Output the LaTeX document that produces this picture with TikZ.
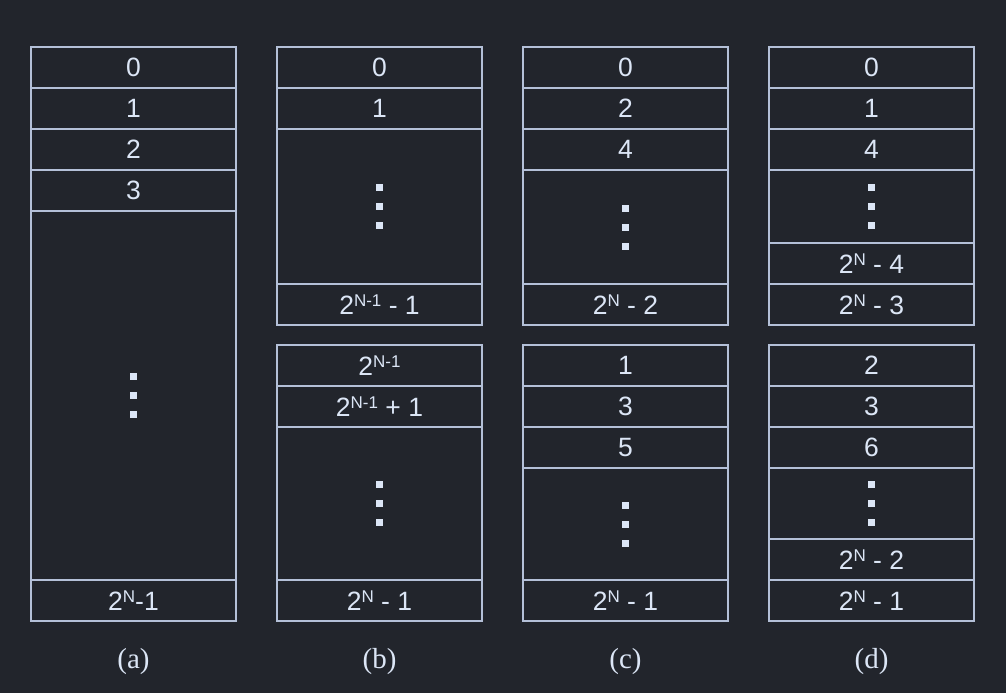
\documentclass[tikz,border=0pt]{standalone}
\usepackage{fontspec}
\setmainfont{Liberation Sans}
\newfontfamily\capfont{Liberation Serif}
\usepackage{tikz}
\usetikzlibrary{positioning}

\definecolor{bg}{HTML}{22252C}
\definecolor{edge}{HTML}{B4C0D8}
\definecolor{ink}{HTML}{DCE6F6}

\newcommand{\pw}[1]{2\raisebox{7.7pt}{\fontsize{17}{20}\selectfont #1}}
\newcommand{\dotsq}{\rule{7pt}{7pt}}
\newcommand{\sqdots}{\vbox{\offinterlineskip\hbox{\dotsq}\kern12pt\hbox{\dotsq}\kern12pt\hbox{\dotsq}}}

\begin{document}
\begin{tikzpicture}[x=1pt,y=-1pt,
slot/.style={
rectangle,
minimum width=205pt,
minimum height=41pt,
inner sep=0pt,
outer sep=0pt,
line width=1.5pt,
draw=edge,
text=ink,
font=\fontsize{26.5}{30}\selectfont
},
tall/.style={slot, minimum height=#1},
caption/.style={text=ink, font=\capfont\fontsize{29}{32}\selectfont}
]

\fill[bg] (0,0) rectangle (1006,693);
\useasboundingbox (0,0) rectangle (1006,693);

\node[slot] (a0) at (133.5,67.5) {0};
\node[slot,below=0pt of a0] (a1) {1};
\node[slot,below=0pt of a1] (a2) {2};
\node[slot,below=0pt of a2] (a3) {3};
\node[tall=369pt,below=0pt of a3] (a4) {\sqdots};
\node[slot,below=0pt of a4] (a5) {\pw{N}-1};
\node[caption,below=24pt of a5] (capa) {(a)};

\node[slot] (b0) at (379.5,67.5) {0};
\node[slot,below=0pt of b0] (b1) {1};
\node[tall=155pt,below=0pt of b1] (b2) {\sqdots};
\node[slot,below=0pt of b2] (b3) {\pw{N-1} - 1};
\node[slot,below=20pt of b3] (b4) {\pw{N-1}};
\node[slot,below=0pt of b4] (b5) {\pw{N-1} + 1};
\node[tall=153pt,below=0pt of b5] (b6) {\sqdots};
\node[slot,below=0pt of b6] (b7) {\pw{N} - 1};
\node[caption,below=24pt of b7] (capb) {(b)};

\node[slot] (c0) at (625.5,67.5) {0};
\node[slot,below=0pt of c0] (c1) {2};
\node[slot,below=0pt of c1] (c2) {4};
\node[tall=114pt,below=0pt of c2] (c3) {\sqdots};
\node[slot,below=0pt of c3] (c4) {\pw{N} - 2};
\node[slot,below=20pt of c4] (c5) {1};
\node[slot,below=0pt of c5] (c6) {3};
\node[slot,below=0pt of c6] (c7) {5};
\node[tall=112pt,below=0pt of c7] (c8) {\sqdots};
\node[slot,below=0pt of c8] (c9) {\pw{N} - 1};
\node[caption,below=24pt of c9] (capc) {(c)};

\node[slot] (d0) at (871.5,67.5) {0};
\node[slot,below=0pt of d0] (d1) {1};
\node[slot,below=0pt of d1] (d2) {4};
\node[tall=73pt,below=0pt of d2] (d3) {\sqdots};
\node[slot,below=0pt of d3] (d4) {\pw{N} - 4};
\node[slot,below=0pt of d4] (d5) {\pw{N} - 3};
\node[slot,below=20pt of d5] (d6) {2};
\node[slot,below=0pt of d6] (d7) {3};
\node[slot,below=0pt of d7] (d8) {6};
\node[tall=71pt,below=0pt of d8] (d9) {\sqdots};
\node[slot,below=0pt of d9] (d10) {\pw{N} - 2};
\node[slot,below=0pt of d10] (d11) {\pw{N} - 1};
\node[caption,below=24pt of d11] (capd) {(d)};

\end{tikzpicture}
\end{document}
